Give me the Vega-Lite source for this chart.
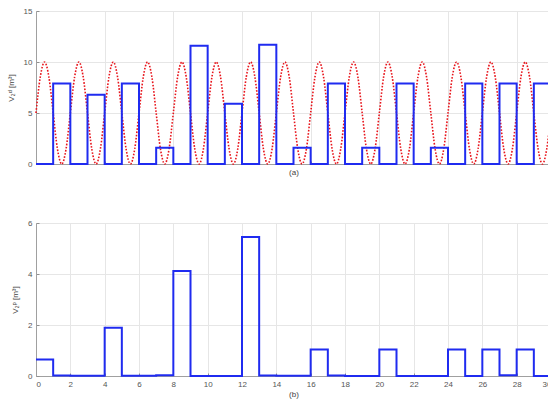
{
  "$schema": "https://vega.github.io/schema/vega-lite/v6.json",
  "padding": {"left": 6, "top": 6, "right": -8, "bottom": 0},
  "background": "white",
  "spacing": 41,
  "datasets": {
    "demand": [
      {"i":0,"t":0,"v":0},{"i":1,"t":1,"v":7.9},{"i":2,"t":2,"v":0},{"i":3,"t":3,"v":6.8},
      {"i":4,"t":4,"v":0},{"i":5,"t":5,"v":7.9},{"i":6,"t":6,"v":0},{"i":7,"t":7,"v":1.6},
      {"i":8,"t":8,"v":0},{"i":9,"t":9,"v":11.6},{"i":10,"t":10,"v":0},{"i":11,"t":11,"v":5.9},
      {"i":12,"t":12,"v":0},{"i":13,"t":13,"v":11.7},{"i":14,"t":14,"v":0},{"i":15,"t":15,"v":1.6},
      {"i":16,"t":16,"v":0},{"i":17,"t":17,"v":7.9},{"i":18,"t":18,"v":0},{"i":19,"t":19,"v":1.6},
      {"i":20,"t":20,"v":0},{"i":21,"t":21,"v":7.9},{"i":22,"t":22,"v":0},{"i":23,"t":23,"v":1.6},
      {"i":24,"t":24,"v":0},{"i":25,"t":25,"v":7.9},{"i":26,"t":26,"v":0},{"i":27,"t":27,"v":7.9},
      {"i":28,"t":28,"v":0},{"i":29,"t":29,"v":7.9},{"i":30,"t":30,"v":7.9},{"i":31,"t":30,"v":0}
    ],
    "reference": [
      {"x":0,"y":5},{"x":0.25,"y":8.54},{"x":0.5,"y":10},{"x":0.75,"y":8.54},{"x":1,"y":5},{"x":1.25,"y":1.46},{"x":1.5,"y":0},{"x":1.75,"y":1.46},
      {"x":2,"y":5},{"x":2.25,"y":8.54},{"x":2.5,"y":10},{"x":2.75,"y":8.54},{"x":3,"y":5},{"x":3.25,"y":1.46},{"x":3.5,"y":0},{"x":3.75,"y":1.46},
      {"x":4,"y":5},{"x":4.25,"y":8.54},{"x":4.5,"y":10},{"x":4.75,"y":8.54},{"x":5,"y":5},{"x":5.25,"y":1.46},{"x":5.5,"y":0},{"x":5.75,"y":1.46},
      {"x":6,"y":5},{"x":6.25,"y":8.54},{"x":6.5,"y":10},{"x":6.75,"y":8.54},{"x":7,"y":5},{"x":7.25,"y":1.46},{"x":7.5,"y":0},{"x":7.75,"y":1.46},
      {"x":8,"y":5},{"x":8.25,"y":8.54},{"x":8.5,"y":10},{"x":8.75,"y":8.54},{"x":9,"y":5},{"x":9.25,"y":1.46},{"x":9.5,"y":0},{"x":9.75,"y":1.46},
      {"x":10,"y":5},{"x":10.25,"y":8.54},{"x":10.5,"y":10},{"x":10.75,"y":8.54},{"x":11,"y":5},{"x":11.25,"y":1.46},{"x":11.5,"y":0},{"x":11.75,"y":1.46},
      {"x":12,"y":5},{"x":12.25,"y":8.54},{"x":12.5,"y":10},{"x":12.75,"y":8.54},{"x":13,"y":5},{"x":13.25,"y":1.46},{"x":13.5,"y":0},{"x":13.75,"y":1.46},
      {"x":14,"y":5},{"x":14.25,"y":8.54},{"x":14.5,"y":10},{"x":14.75,"y":8.54},{"x":15,"y":5},{"x":15.25,"y":1.46},{"x":15.5,"y":0},{"x":15.75,"y":1.46},
      {"x":16,"y":5},{"x":16.25,"y":8.54},{"x":16.5,"y":10},{"x":16.75,"y":8.54},{"x":17,"y":5},{"x":17.25,"y":1.46},{"x":17.5,"y":0},{"x":17.75,"y":1.46},
      {"x":18,"y":5},{"x":18.25,"y":8.54},{"x":18.5,"y":10},{"x":18.75,"y":8.54},{"x":19,"y":5},{"x":19.25,"y":1.46},{"x":19.5,"y":0},{"x":19.75,"y":1.46},
      {"x":20,"y":5},{"x":20.25,"y":8.54},{"x":20.5,"y":10},{"x":20.75,"y":8.54},{"x":21,"y":5},{"x":21.25,"y":1.46},{"x":21.5,"y":0},{"x":21.75,"y":1.46},
      {"x":22,"y":5},{"x":22.25,"y":8.54},{"x":22.5,"y":10},{"x":22.75,"y":8.54},{"x":23,"y":5},{"x":23.25,"y":1.46},{"x":23.5,"y":0},{"x":23.75,"y":1.46},
      {"x":24,"y":5},{"x":24.25,"y":8.54},{"x":24.5,"y":10},{"x":24.75,"y":8.54},{"x":25,"y":5},{"x":25.25,"y":1.46},{"x":25.5,"y":0},{"x":25.75,"y":1.46},
      {"x":26,"y":5},{"x":26.25,"y":8.54},{"x":26.5,"y":10},{"x":26.75,"y":8.54},{"x":27,"y":5},{"x":27.25,"y":1.46},{"x":27.5,"y":0},{"x":27.75,"y":1.46},
      {"x":28,"y":5},{"x":28.25,"y":8.54},{"x":28.5,"y":10},{"x":28.75,"y":8.54},{"x":29,"y":5},{"x":29.25,"y":1.46},{"x":29.5,"y":0},{"x":29.75,"y":1.46},
      {"x":30,"y":5}
    ],
    "purchase": [
      {"i":0,"t":0,"v":0.65},{"i":1,"t":1,"v":0.02},{"i":2,"t":2,"v":0.01},{"i":3,"t":3,"v":0.01},
      {"i":4,"t":4,"v":1.89},{"i":5,"t":5,"v":0.01},{"i":6,"t":6,"v":0.01},{"i":7,"t":7,"v":0.03},
      {"i":8,"t":8,"v":4.12},{"i":9,"t":9,"v":0},{"i":10,"t":10,"v":0},{"i":11,"t":11,"v":0},
      {"i":12,"t":12,"v":5.45},{"i":13,"t":13,"v":0.02},{"i":14,"t":14,"v":0.01},{"i":15,"t":15,"v":0.01},
      {"i":16,"t":16,"v":1.04},{"i":17,"t":17,"v":0.02},{"i":18,"t":18,"v":0},{"i":19,"t":19,"v":0},
      {"i":20,"t":20,"v":1.04},{"i":21,"t":21,"v":0},{"i":22,"t":22,"v":0},{"i":23,"t":23,"v":0},
      {"i":24,"t":24,"v":1.04},{"i":25,"t":25,"v":0},{"i":26,"t":26,"v":1.04},{"i":27,"t":27,"v":0.03},
      {"i":28,"t":28,"v":1.04},{"i":29,"t":29,"v":0},{"i":30,"t":30,"v":0}
    ]
  },
  "vconcat": [
    {
      "width": 515,
      "height": 153,
      "layer": [
        {
          "data": {"name": "reference"},
          "mark": {"type": "line", "color": "#e8141b", "strokeWidth": 1.6, "strokeDash": [1.6, 1.6], "interpolate": "monotone"},
          "encoding": {
            "x": {"field": "x", "type": "quantitative"},
            "y": {"field": "y", "type": "quantitative"}
          }
        },
        {
          "data": {"name": "demand"},
          "mark": {"type": "line", "color": "#1f2bf0", "strokeWidth": 2, "interpolate": "step-after"},
          "encoding": {
            "x": {"field": "t", "type": "quantitative",
                  "scale": {"domain": [0, 30], "nice": false},
                  "axis": {"values": [0,2,4,6,8,10,12,14,16,18,20,22,24,26,28,30], "labels": false, "title": "(a)", "titlePadding": 4}},
            "y": {"field": "v", "type": "quantitative",
                  "scale": {"domain": [0, 15], "nice": false},
                  "axis": {"values": [0, 5, 10, 15], "title": "V₂ᵈ [m³]"}},
            "order": {"field": "i", "type": "quantitative"}
          }
        }
      ]
    },
    {
      "width": 515,
      "height": 153,
      "data": {"name": "purchase"},
      "mark": {"type": "line", "color": "#1f2bf0", "strokeWidth": 2, "interpolate": "step-after"},
      "encoding": {
        "x": {"field": "t", "type": "quantitative",
              "scale": {"domain": [0, 30], "nice": false},
              "axis": {"values": [0,2,4,6,8,10,12,14,16,18,20,22,24,26,28,30], "title": "(b)", "titlePadding": 2}},
        "y": {"field": "v", "type": "quantitative",
              "scale": {"domain": [0, 6], "nice": false},
              "axis": {"values": [0, 2, 4, 6], "title": "V₂ᵖ [m³]"}},
        "order": {"field": "i", "type": "quantitative"}
      }
    }
  ],
  "config": {
    "font": "Liberation Sans",
    "view": {"stroke": "#b5b5b5", "strokeWidth": 1},
    "axis": {
      "domainColor": "#a0a0a0",
      "gridColor": "#e6e6e6",
      "grid": true,
      "ticks": true,
      "tickSize": -3,
      "tickColor": "#909090",
      "labelFontSize": 8,
      "labelColor": "#555555",
      "labelPadding": 7,
      "titleFontSize": 8,
      "titleFontWeight": "normal",
      "titleColor": "#444444"
    },
    "axisY": {"titlePadding": 8}
  }
}
